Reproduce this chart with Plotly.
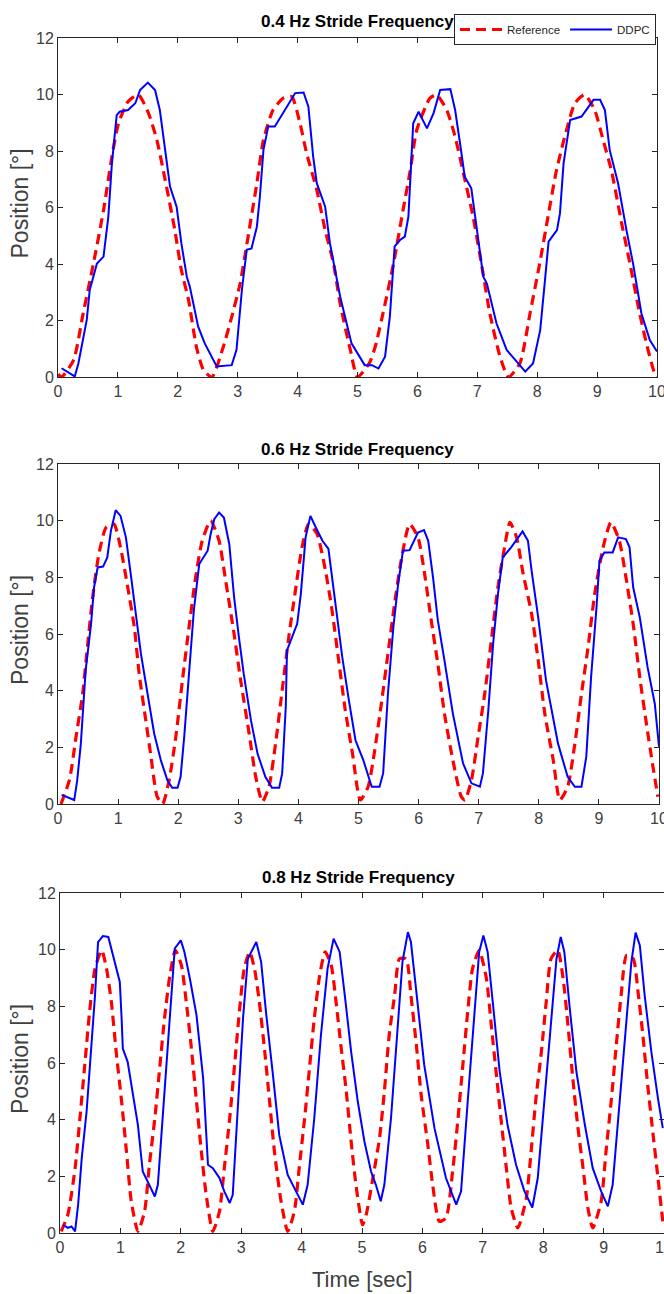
import plotly.graph_objects as go

# ---------------- data ----------------
# 0.4 Hz stride frequency
t_ref_04 = [0.0, 0.06, 0.26, 0.42, 0.59, 0.76, 0.90, 1.01, 1.17, 1.34, 1.51, 1.65, 1.79, 1.95, 2.06, 2.18,
            2.31, 2.43, 2.57, 2.76, 2.90, 3.04, 3.21, 3.32, 3.43, 3.59, 3.76, 3.90, 4.04, 4.15, 4.32, 4.46,
            4.60, 4.71, 4.88, 5.00, 5.20, 5.30, 5.43, 5.60, 5.76, 5.88, 5.99, 6.21, 6.32, 6.49, 6.63, 6.77,
            6.93, 7.07, 7.21, 7.38, 7.52, 7.71, 7.88, 8.04, 8.18, 8.32, 8.49, 8.63, 8.79, 8.96, 9.10, 9.24,
            9.41, 9.55, 9.71, 9.85, 9.96, 10.0]
ref_04 = [0.1, 0.0, 0.6, 2.25, 4.0, 5.9, 7.8, 8.98, 9.75, 9.99, 9.34, 8.39, 6.97, 5.2, 3.78, 2.72,
          1.07, 0.24, 0.0, 1.07, 2.13, 3.31, 5.44, 6.86, 8.39, 9.45, 9.87, 9.93, 8.98, 7.92, 6.62, 5.2,
          4.02, 2.6, 0.96, 0.0, 0.5, 1.1, 2.3, 4.0, 5.9, 7.3, 8.75, 9.87, 9.99, 9.45, 8.5, 7.2,
          5.67, 4.0, 2.25, 0.72, 0.0, 0.48, 2.25, 4.0, 5.67, 7.3, 8.75, 9.69, 9.99, 9.45, 8.39, 7.3,
          5.44, 4.0, 2.25, 0.96, 0.13, 0.0]
t_ddpc_04 = [0.06, 0.28, 0.34, 0.48, 0.53, 0.65, 0.76, 0.84, 0.90, 0.98, 1.03, 1.17, 1.29, 1.37, 1.50, 1.62,
             1.70, 1.79, 1.87, 1.98, 2.06, 2.15, 2.20, 2.34, 2.45, 2.65, 2.90, 2.98, 3.07, 3.15, 3.23, 3.32,
             3.37, 3.43, 3.51, 3.62, 3.76, 3.96, 4.10, 4.18, 4.26, 4.32, 4.46, 4.54, 4.71, 4.90, 5.12, 5.24,
             5.35, 5.46, 5.54, 5.62, 5.71, 5.79, 5.85, 5.90, 5.93, 6.02, 6.16, 6.27, 6.38, 6.55, 6.63, 6.72,
             6.79, 6.90, 6.99, 7.10, 7.16, 7.32, 7.49, 7.66, 7.80, 7.93, 8.05, 8.13, 8.19, 8.33, 8.38, 8.44,
             8.55, 8.74, 8.94, 9.05, 9.13, 9.21, 9.35, 9.49, 9.60, 9.74, 9.88, 10.0]
ddpc_04 = [0.31, 0.02, 0.48, 2.02, 3.08, 4.02, 4.26, 5.67, 7.56, 9.27, 9.39, 9.45, 9.69, 10.16, 10.42, 10.16,
           9.45, 8.04, 6.74, 6.03, 4.73, 3.55, 3.20, 1.78, 1.19, 0.37, 0.42, 0.96, 3.08, 4.50, 4.55, 5.32,
           6.38, 8.04, 8.87, 8.87, 9.34, 10.05, 10.07, 9.57, 7.80, 6.86, 6.03, 4.73, 2.85, 1.19, 0.42, 0.42,
           0.30, 0.72, 2.14, 4.62, 4.85, 4.97, 5.68, 7.56, 8.98, 9.39, 8.80, 9.34, 10.16, 10.19, 9.45, 8.15,
           7.09, 6.68, 5.20, 3.55, 3.31, 1.90, 0.96, 0.54, 0.19, 0.48, 1.66, 3.43, 4.79, 5.20, 5.79, 7.56,
           9.10, 9.22, 9.81, 9.81, 9.45, 8.04, 6.86, 5.20, 4.02, 2.25, 1.31, 0.90]

# 0.6 Hz stride frequency
t_ref_06 = [0.05, 0.19, 0.30, 0.41, 0.49, 0.57, 0.68, 0.80, 0.93, 1.04, 1.16, 1.27, 1.35, 1.46, 1.54, 1.65,
            1.74, 1.85, 1.96, 2.07, 2.18, 2.29, 2.40, 2.54, 2.68, 2.79, 2.93, 3.04, 3.18, 3.29, 3.40, 3.51,
            3.62, 3.73, 3.84, 3.95, 4.06, 4.17, 4.31, 4.45, 4.56, 4.67, 4.78, 4.90, 5.03, 5.16, 5.27, 5.38,
            5.49, 5.60, 5.71, 5.85, 5.99, 6.10, 6.21, 6.32, 6.43, 6.57, 6.71, 6.77, 6.88, 6.99, 7.10, 7.21,
            7.32, 7.43, 7.52, 7.63, 7.74, 7.88, 7.99, 8.10, 8.24, 8.35, 8.48, 8.60, 8.71, 8.82, 8.93, 9.07,
            9.20, 9.34, 9.45, 9.57, 9.68, 9.79, 9.90, 9.98]
ref_06 = [0.0, 0.85, 2.37, 3.89, 5.54, 7.18, 8.82, 9.76, 9.88, 9.06, 7.65, 6.24, 4.6, 2.96, 1.78, 0.26,
          0.0, 0.85, 2.37, 4.36, 6.24, 8.0, 9.29, 10.0, 9.29, 7.88, 6.0, 4.36, 2.49, 0.96, 0.08, 0.61,
          2.13, 4.01, 5.89, 7.53, 9.06, 9.88, 9.53, 8.24, 6.83, 5.07, 3.31, 1.78, 0.14, 0.61, 1.90, 3.54,
          5.3, 7.06, 8.59, 9.88, 9.41, 8.12, 6.48, 4.95, 3.19, 1.55, 0.26, 0.14, 0.85, 2.37, 3.89, 5.77,
          7.65, 9.06, 9.94, 9.41, 8.12, 6.71, 5.07, 3.19, 1.55, 0.14, 0.61, 2.13, 3.89, 5.54, 7.41, 9.06,
          9.94, 9.29, 8.0, 6.36, 4.48, 2.84, 1.31, 0.26]
t_ddpc_06 = [0.06, 0.19, 0.27, 0.32, 0.38, 0.46, 0.55, 0.60, 0.66, 0.75, 0.82, 0.88, 0.96, 1.04, 1.13, 1.21,
             1.29, 1.38, 1.49, 1.60, 1.71, 1.82, 1.90, 1.99, 2.04, 2.10, 2.18, 2.26, 2.35, 2.49, 2.54, 2.60,
             2.68, 2.76, 2.85, 2.93, 3.01, 3.09, 3.21, 3.32, 3.45, 3.56, 3.68, 3.73, 3.79, 3.81, 3.98, 4.04,
             4.12, 4.20, 4.29, 4.40, 4.50, 4.56, 4.65, 4.73, 4.84, 4.95, 5.08, 5.22, 5.35, 5.41, 5.49, 5.58,
             5.66, 5.74, 5.85, 5.99, 6.09, 6.16, 6.24, 6.32, 6.43, 6.57, 6.74, 6.88, 7.02, 7.07, 7.16, 7.24,
             7.32, 7.40, 7.54, 7.65, 7.73, 7.82, 7.88, 7.99, 8.12, 8.32, 8.48, 8.60, 8.71, 8.79, 8.87, 8.96,
             9.01, 9.09, 9.23, 9.32, 9.45, 9.51, 9.57, 9.68, 9.81, 9.93, 10.0]
ddpc_06 = [0.32, 0.2, 0.14, 0.84, 2.13, 4.72, 6.36, 7.65, 8.35, 8.38, 8.70, 9.64, 10.37, 10.17, 9.41, 8.12,
           6.71, 5.30, 3.89, 2.49, 1.55, 0.84, 0.57, 0.57, 0.96, 2.37, 4.6, 6.83, 8.47, 8.94, 9.53, 10.05,
           10.29, 10.11, 9.17, 7.30, 5.89, 4.60, 2.96, 1.78, 0.96, 0.57, 0.57, 1.08, 3.43, 5.42, 6.36, 7.41,
           9.41, 10.17, 9.76, 9.29, 9.0, 8.0, 6.36, 5.18, 3.66, 2.25, 1.55, 0.61, 0.61, 1.08, 3.89, 6.24,
           7.77, 8.94, 8.96, 9.58, 9.67, 9.29, 8.0, 6.48, 5.07, 3.19, 1.43, 0.73, 0.61, 1.08, 3.31, 5.65,
           7.41, 8.70, 9.06, 9.41, 9.62, 9.29, 8.24, 6.59, 4.36, 2.13, 0.96, 0.61, 0.61, 1.67, 4.48, 6.94,
           8.59, 8.88, 8.88, 9.41, 9.35, 9.06, 7.65, 6.59, 4.83, 3.54, 2.02]

# 0.8 Hz stride frequency
t_ref_08 = [0.02, 0.13, 0.25, 0.33, 0.41, 0.49, 0.58, 0.69, 0.77, 0.85, 0.93, 1.02, 1.10, 1.18, 1.29, 1.40,
            1.48, 1.57, 1.65, 1.73, 1.82, 1.91, 2.01, 2.09, 2.17, 2.26, 2.34, 2.42, 2.53, 2.64, 2.72, 2.81,
            2.89, 2.97, 3.05, 3.14, 3.22, 3.30, 3.39, 3.47, 3.55, 3.66, 3.77, 3.88, 3.96, 4.05, 4.13, 4.21,
            4.30, 4.39, 4.49, 4.57, 4.65, 4.74, 4.82, 4.90, 5.01, 5.07, 5.18, 5.29, 5.37, 5.45, 5.54, 5.62,
            5.73, 5.81, 5.90, 5.98, 6.09, 6.17, 6.28, 6.39, 6.50, 6.59, 6.67, 6.75, 6.83, 6.94, 7.06, 7.14,
            7.22, 7.30, 7.39, 7.47, 7.58, 7.72, 7.80, 7.88, 7.97, 8.05, 8.13, 8.24, 8.33, 8.41, 8.49, 8.57,
            8.66, 8.74, 8.82, 8.96, 9.04, 9.13, 9.21, 9.29, 9.38, 9.49, 9.57, 9.65, 9.73, 9.82, 9.90, 9.98]
ref_08 = [0.06, 0.65, 2.29, 4.05, 5.93, 7.81, 9.33, 9.98, 9.33, 8.16, 6.40, 4.64, 2.88, 1.12, 0.06, 0.76,
          2.41, 4.05, 5.81, 7.57, 9.10, 9.98, 9.45, 8.16, 6.63, 4.64, 2.88, 1.35, 0.06, 0.76, 2.29, 4.05,
          5.93, 7.81, 9.33, 9.92, 9.33, 8.16, 6.40, 4.64, 2.88, 1.12, 0.06, 0.76, 2.29, 4.05, 5.81, 7.57,
          9.10, 9.92, 9.45, 8.16, 6.63, 4.99, 3.23, 1.70, 0.29, 0.65, 1.94, 3.35, 4.99, 6.98, 8.39, 9.68,
          9.68, 8.39, 6.63, 4.87, 3.11, 1.70, 0.41, 0.53, 2.17, 4.05, 5.93, 7.81, 9.33, 9.98, 8.98, 7.34,
          5.69, 4.05, 2.29, 0.88, 0.18, 1.23, 2.88, 4.75, 6.40, 8.16, 9.68, 9.98, 8.98, 7.34, 5.46, 3.81,
          2.29, 0.88, 0.18, 1.12, 2.88, 4.75, 6.63, 8.39, 9.80, 9.68, 8.51, 6.98, 5.22, 3.46, 1.94, 0.41]
t_ddpc_08 = [0.05, 0.13, 0.19, 0.25, 0.30, 0.36, 0.44, 0.52, 0.58, 0.63, 0.71, 0.80, 0.91, 0.99, 1.02, 1.04,
             1.12, 1.18, 1.29, 1.37, 1.48, 1.57, 1.62, 1.71, 1.82, 1.90, 2.00, 2.06, 2.15, 2.26, 2.37, 2.45,
             2.53, 2.64, 2.72, 2.81, 2.86, 2.94, 3.03, 3.11, 3.25, 3.33, 3.41, 3.52, 3.63, 3.77, 3.91, 4.02,
             4.10, 4.21, 4.32, 4.43, 4.53, 4.63, 4.72, 4.82, 4.93, 5.04, 5.15, 5.23, 5.31, 5.37, 5.48, 5.59,
             5.67, 5.76, 5.81, 5.90, 6.03, 6.20, 6.39, 6.56, 6.64, 6.75, 6.86, 6.94, 7.01, 7.08, 7.17, 7.28,
             7.41, 7.55, 7.69, 7.82, 7.91, 8.02, 8.13, 8.22, 8.29, 8.35, 8.44, 8.55, 8.69, 8.82, 8.96, 9.07,
             9.15, 9.27, 9.38, 9.46, 9.53, 9.60, 9.68, 9.79, 9.90, 9.98]
ddpc_08 = [0.29, 0.18, 0.23, 0.06, 1.0, 2.64, 4.28, 6.63, 8.39, 10.27, 10.48, 10.45, 9.57, 8.86, 7.57, 6.51,
           6.04, 5.22, 3.81, 2.17, 1.70, 1.29, 1.70, 4.28, 7.57, 10.04, 10.33, 9.92, 8.98, 7.69, 5.46, 2.41,
           2.29, 1.94, 1.47, 1.06, 1.35, 4.28, 7.57, 9.68, 10.27, 9.57, 7.81, 5.69, 3.46, 2.05, 1.47, 1.0,
           1.70, 4.05, 6.98, 9.33, 10.39, 9.92, 8.30, 6.40, 4.64, 3.23, 2.17, 1.70, 1.12, 1.70, 4.05, 7.22,
           9.57, 10.62, 10.27, 8.51, 5.93, 3.70, 1.94, 1.0, 1.47, 4.64, 7.81, 9.92, 10.50, 9.92, 8.04, 5.69,
           3.81, 2.41, 1.47, 0.90, 1.94, 4.64, 7.57, 9.68, 10.45, 9.92, 7.92, 5.69, 3.81, 2.29, 1.47, 0.94,
           1.70, 4.64, 7.57, 9.57, 10.60, 10.15, 8.39, 6.40, 4.75, 3.70]

titles = ["0.4 Hz Stride Frequency", "0.6 Hz Stride Frequency", "0.8 Hz Stride Frequency"]
x_ticks = list(range(0, 11))
y_ticks = list(range(0, 13, 2))

# ---------------- figure ----------------
W, H = 664, 1294
NARROW = "Liberation Sans Narrow, Arial Narrow, Liberation Sans, Arial, sans-serif"
REG = "Liberation Sans, Arial, sans-serif"
AX = "#262626"
TICKC = "#404040"

# pixel boxes of the three axes: (left, right, top, bottom)
boxes = [(58, 657, 38, 377), (58, 659, 464, 804), (60, 664, 893, 1233)]

fig = go.Figure()
series = [(t_ref_04, ref_04, t_ddpc_04, ddpc_04),
          (t_ref_06, ref_06, t_ddpc_06, ddpc_06),
          (t_ref_08, ref_08, t_ddpc_08, ddpc_08)]

for i, (tr, vr, td, vd) in enumerate(series):
    sfx = "" if i == 0 else str(i + 1)
    fig.add_trace(go.Scatter(x=tr, y=vr, mode="lines", name="Reference",
                             line=dict(color="#FF0000", width=3.2, dash="10px,6px", shape="spline", smoothing=0.6),
                             xaxis="x" + sfx, yaxis="y" + sfx, showlegend=(i == 0)))
    fig.add_trace(go.Scatter(x=td, y=vd, mode="lines", name="DDPC",
                             line=dict(color="#0000FF", width=2),
                             xaxis="x" + sfx, yaxis="y" + sfx, showlegend=(i == 0)))

layout = dict(width=W, height=H, margin=dict(l=0, r=0, t=0, b=0),
              paper_bgcolor="white", plot_bgcolor="white", showlegend=True)

for i, (l, r, t, b) in enumerate(boxes):
    sfx = "" if i == 0 else str(i + 1)
    layout["xaxis" + sfx] = dict(domain=[l / W, r / W], anchor="y" + sfx, range=[0, 10],
                                 tickvals=x_ticks, ticks="inside", ticklen=5, tickcolor=AX,
                                 showline=True, linecolor=AX, linewidth=1, mirror="ticks",
                                 showgrid=False, zeroline=False, automargin=False,
                                 ticklabeloverflow="allow",
                                 tickfont=dict(family=NARROW, size=16, color=TICKC))
    layout["yaxis" + sfx] = dict(domain=[1 - b / H, 1 - t / H], anchor="x" + sfx, range=[0, 12],
                                 tickvals=y_ticks, ticks="inside", ticklen=5, tickcolor=AX,
                                 showline=True, linecolor=AX, linewidth=1, mirror="ticks",
                                 showgrid=False, zeroline=False, automargin=False,
                                 ticklabeloverflow="allow",
                                 tickfont=dict(family=NARROW, size=16, color=TICKC))

annotations = []
title_y = [22, 449, 877]
for i, (l, r, t, b) in enumerate(boxes):
    annotations.append(dict(text="<b>" + titles[i] + "</b>", xref="paper", yref="paper",
                            x=(l + min(r, 657)) / 2 / W, y=1 - title_y[i] / H, xanchor="center", yanchor="middle",
                            showarrow=False, font=dict(family=NARROW, size=17, color="#000000")))
    annotations.append(dict(text="Position [°]", xref="paper", yref="paper",
                            x=20 / W, y=1 - (t + b - 8) / 2 / H, xanchor="center", yanchor="middle",
                            textangle=-90, showarrow=False, font=dict(family=REG, size=23, color=TICKC)))
annotations.append(dict(text="Time [sec]", xref="paper", yref="paper",
                        x=362 / W, y=1 - 1279 / H, xanchor="center", yanchor="middle",
                        showarrow=False, font=dict(family=REG, size=22, color=TICKC)))
layout["annotations"] = annotations
layout["legend"] = dict(x=656 / W, xanchor="right", y=1 - 14 / H, yanchor="top", orientation="h",
                        bgcolor="white", bordercolor=AX, borderwidth=1,
                        font=dict(family=NARROW, size=11.5, color="#262626"),
                        itemwidth=42, tracegroupgap=0)
fig.update_layout(**layout)
fig.write_html("out.html", config={"displayModeBar": False},
               post_script="document.body.style.margin='0';document.body.style.overflow='hidden';")
